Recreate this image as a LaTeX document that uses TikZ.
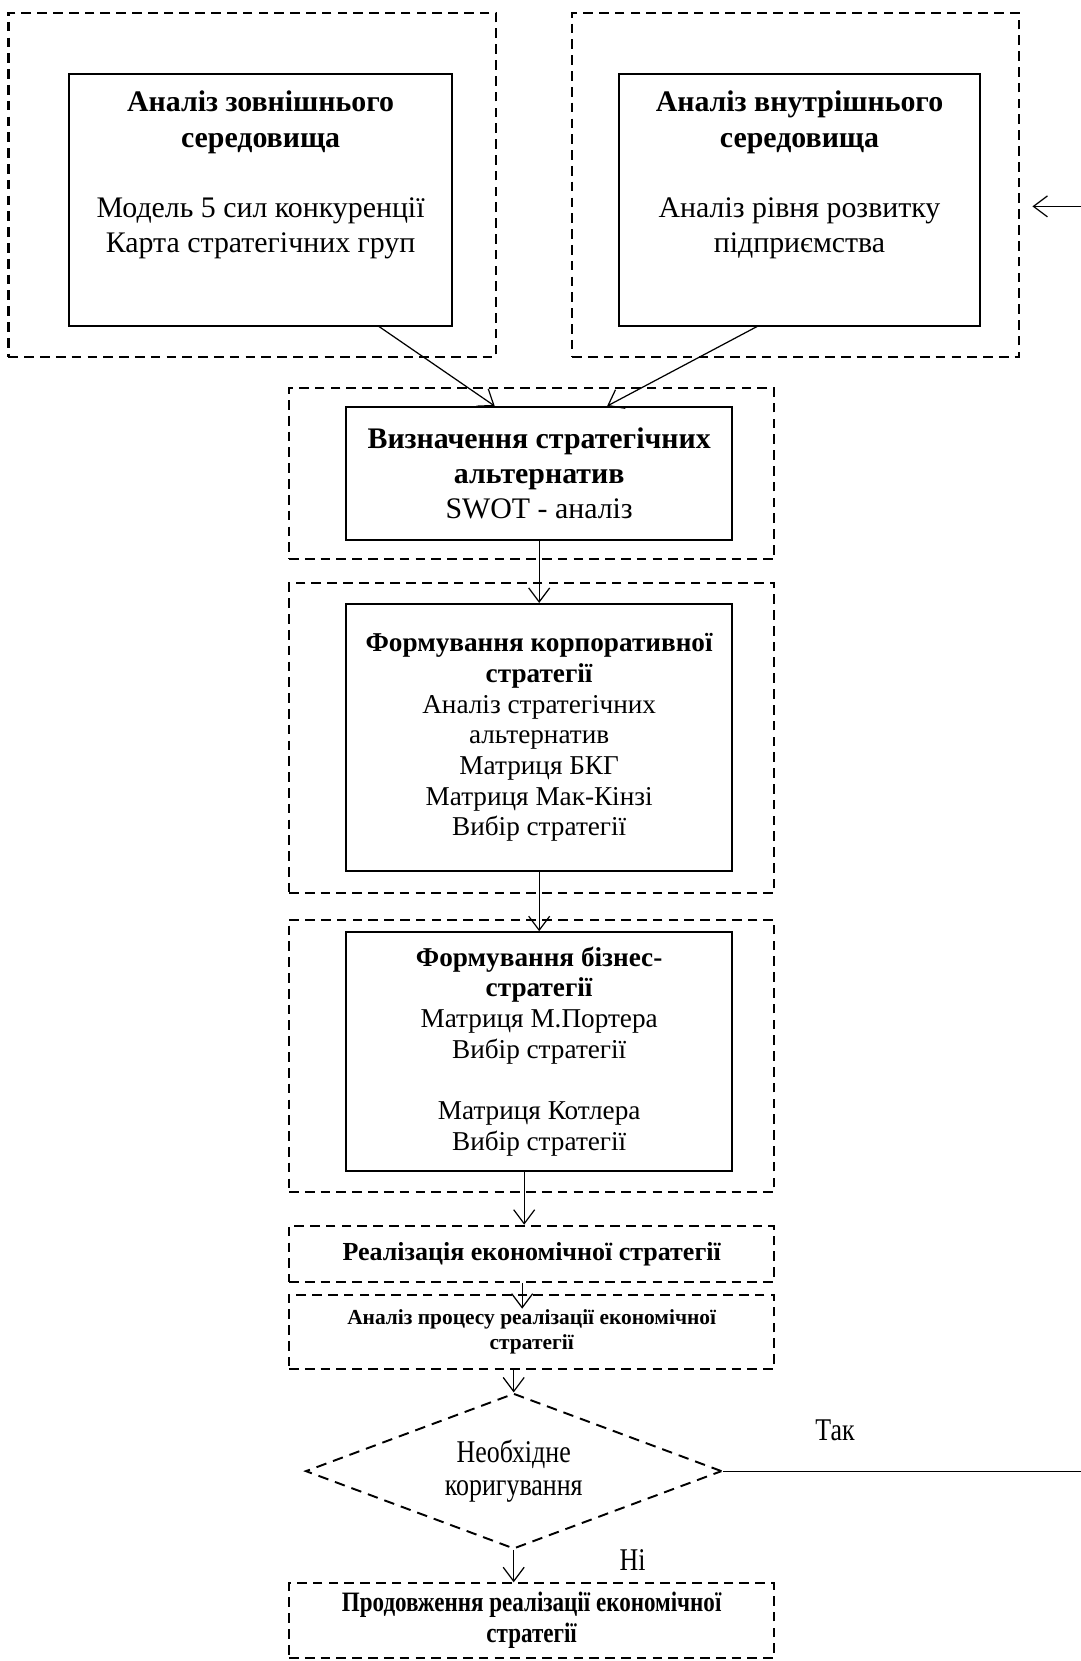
\documentclass[tikz,border=0pt]{standalone}
\usepackage{fontspec}
\setmainfont{Liberation Serif}
\newfontfamily\narrowserif[FakeStretch=0.82]{Liberation Serif}
\usetikzlibrary{arrows.meta,shapes.geometric,calc}

\begin{document}
\begin{tikzpicture}[
        zone/.style={rectangle, draw=black, line width=1.2pt, dash pattern=on 5.5pt off 3.5pt, minimum width=9.71cm, inner sep=0pt, align=center},
        block/.style={rectangle, draw=black, line width=1.1pt, align=center, inner sep=0pt, minimum width=7.72cm},
        decision/.style={diamond, aspect=2.68, draw=black, line width=1.1pt, dash pattern=on 6pt off 4pt, align=center, inner sep=0pt, minimum width=8.33cm, minimum height=3.11cm},
        arrow/.style={line width=0.7pt, -{Straight Barb[length=2.8mm,width=4.2mm]}},
        big/.style={font=\fontsize{17}{20}\selectfont},
        mid/.style={font=\fontsize{15.5}{17.5}\selectfont}
    ]
        \useasboundingbox (0,0) rectangle (21.62,-33.24);

        % upper analysis blocks
        \node[zone, minimum width=9.75cm, minimum height=6.89cm] (extZone) at (5.045,-3.70) {};
        \node[block, big, minimum width=7.67cm, minimum height=5.03cm] (ext) at (5.215,-4.00)
            {\textbf{Аналіз зовнішнього}\\\textbf{середовища}\\[20pt]Модель 5 сил конкуренції\\Карта стратегічних груп\\[12pt]~};
        \node[zone, minimum width=8.94cm, minimum height=6.89cm] (intZone) at (15.92,-3.70) {};
        \node[block, big, minimum width=7.21cm, minimum height=5.03cm] (int) at (16.00,-4.00)
            {\textbf{Аналіз внутрішнього}\\\textbf{середовища}\\[20pt]Аналіз рівня розвитку\\підприємства\\[12pt]~};

        % central chain
        \node[zone, minimum height=3.43cm] (altZone) at (10.64,-9.48) {};
        \node[block, big, minimum height=2.67cm] (alt) at (10.79,-9.48)
            {\textbf{Визначення стратегічних}\\\textbf{альтернатив}\\SWOT - аналіз};
        \node[zone, minimum height=6.21cm] (corpZone) at (10.64,-14.77) {};
        \node[block, mid, minimum height=5.35cm] (corp) at (10.79,-14.76)
            {\textbf{Формування корпоративної}\\\textbf{стратегії}\\Аналіз стратегічних\\альтернатив\\Матриця БКГ\\Матриця Мак-Кінзі\\Вибір стратегії};
        \node[zone, minimum height=5.45cm] (busZone) at (10.64,-21.13) {};
        \node[block, mid, minimum height=4.77cm] (bus) at (10.79,-21.04)
            {\textbf{Формування бізнес-}\\\textbf{стратегії}\\Матриця М.Портера\\Вибір стратегії\\[17.5pt]Матриця Котлера\\Вибір стратегії};
        \node[zone, minimum height=1.12cm, font=\fontsize{14.8}{17}\selectfont\bfseries] (impl) at (10.64,-25.09)
            {Реалізація економічної стратегії};
        \node[zone, minimum height=1.48cm, font=\fontsize{12.2}{14}\selectfont\bfseries] (review) at (10.64,-26.65)
            {Аналіз процесу реалізації економічної\\стратегії};
        \node[decision, font=\fontsize{18}{18.5}\selectfont\narrowserif] (decide) at (10.28,-29.44)
            {Необхідне\\коригування};
        \node[zone, minimum height=1.49cm, font=\fontsize{16}{17.5}\selectfont\narrowserif\bfseries] (cont) at (10.64,-32.43)
            {Продовження реалізації економічної\\стратегії};

        \node[font=\fontsize{18}{21}\selectfont\narrowserif] (yes) at (16.71,-28.62) {Так};
        \node[font=\fontsize{18}{21}\selectfont\narrowserif] (no) at (12.66,-31.21) {Ні};
        \coordinate (loop) at (21.80,-4.13);

        \draw[arrow] ([xshift=2.37cm]ext.south) -- ([xshift=-0.89cm]alt.north);
        \draw[arrow] ([xshift=-0.85cm]int.south) -- ([xshift=1.36cm]alt.north);
        \draw[arrow] (alt.south) -- (corp.north);
        \draw[arrow] (corp.south) -- (bus.north);
        \draw[arrow] ([xshift=-0.30cm]bus.south) -- ([xshift=-0.30cm]bus.south |- impl.north);
        \draw[arrow] ([xshift=-0.19cm]impl.south) -- ([xshift=-0.19cm,yshift=-0.3cm]review.north);
        \draw[arrow] (review.south -| decide.north) -- (decide.north);
        \draw[arrow] (decide.south) -- (cont.north -| decide.south);
        \draw[arrow] (decide.east) -- (decide.east -| loop) -- (loop) -- ($(loop -| intZone.east)+(0.25,0)$);
    \end{tikzpicture}
\end{document}
